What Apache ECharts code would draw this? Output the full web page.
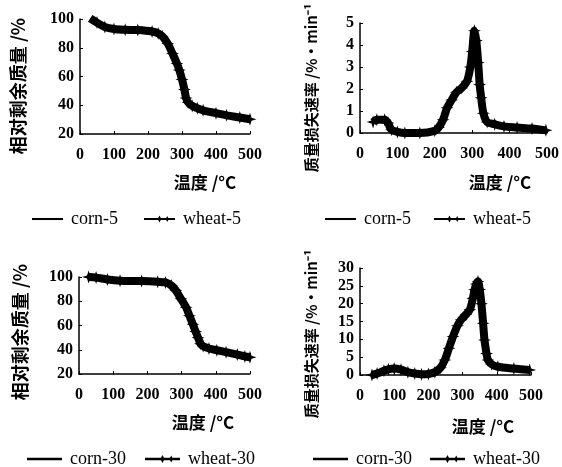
<!DOCTYPE html>
<html>
<head>
<meta charset="utf-8">
<script src="https://cdn.jsdelivr.net/npm/echarts@6/dist/echarts.min.js"></script>
<style>
  html, body { margin: 0; padding: 0; background: #fff; }
  #chart { width: 562px; height: 467px; }
</style>
</head>
<body>
<div id="chart"></div>
<script>
// [temperature °C, value]
// corn curves are hidden under the wheat markers, so they share the same trace
const tg5 = [[30,100.5],[50,97.5],[73,94.5],[100,93],[133,92.5],[170,92.3],[212,91.3],[230,90],[242,88],[258,83],[272,76],[285,69],[292,64.5],[300,58],[307,51],[312,45],[318,42],[330,39.5],[345,38],[362,36.5],[400,34.5],[431,33],[470,31.5],[500,30.3]];
const dtg5 = [[35,0.5],[45,0.6],[66,0.6],[75,0.45],[84,0.15],[100,0.05],[120,0],[160,0],[200,0.1],[210,0.25],[222,0.6],[233,1.15],[245,1.5],[258,1.85],[272,2.05],[286,2.35],[295,3.0],[300,3.7],[306,4.65],[311,4.2],[316,3.2],[320,2.2],[324,1.6],[330,0.9],[340,0.5],[360,0.4],[385,0.3],[420,0.25],[460,0.2],[497,0.12]];
const tg30 = [[28,100],[50,99.5],[83,98],[120,97],[183,96.6],[230,96],[253,95.5],[270,93],[283,89],[298,82],[313,75],[323,68],[333,61],[341,55],[348,50],[355,45],[363,43],[380,41],[403,39.6],[430,38],[463,36],[485,34.5],[500,33.8]];
const dtg30 = [[35,0],[50,0.4],[70,1.2],[83,1.6],[100,1.8],[120,1.5],[140,0.8],[160,0.4],[180,0.2],[200,0.3],[219,0.8],[235,2],[248,4.2],[260,7.5],[272,10.8],[285,13.8],[296,15.5],[310,17],[321,18.3],[330,21.5],[335,23.9],[340,25.5],[345,26.2],[350,24],[355,20],[360,14.5],[364,9.8],[370,6],[374,4.2],[385,3],[403,2.3],[450,1.8],[496,1.4]];

const tgTicks = [20, 40, 60, 80, 100];
const dtg5Max = 5;
const dtg30Max = 30;

const xTitle = '温度 /°C';
const tgTitle = '相对剩余质量 /%';
const dtgTitle = '质量损失速率 /%·min⁻¹';

const chart = echarts.init(document.getElementById('chart'));

const numFont = { fontFamily: 'Liberation Serif', fontSize: 16, fontWeight: 'bold', color: '#000' };
const star = 'path://M5,0L6.2,3.8L10,5L6.2,6.2L5,10L3.8,6.2L0,5L3.8,3.8Z';
const cornIcon = 'path://M0,8L60,8L60,12L0,12Z';
const wheatIcon = 'path://M0,8L60,8L60,12L0,12Z M30,3L32.5,8L38,10L32.5,12L30,17L27.5,12L22,10L27.5,8Z M45,4L47,8L51,10L47,12L45,16L43,12L39,10L43,8Z';

function xAxis(grid) {
  return {
    type: 'value', gridIndex: grid, min: 0, max: 500, interval: 100,
    axisLine: { show: true, onZero: false, lineStyle: { color: '#000', width: 1.5 } },
    axisTick: { show: true, inside: true, length: 3, lineStyle: { color: '#000' } },
    axisLabel: Object.assign({ margin: 13 }, numFont),
    splitLine: { show: false }
  };
}
function yAxis(grid, min, max, interval) {
  return {
    type: 'value', gridIndex: grid, min: min, max: max, interval: interval,
    axisLine: { show: true, lineStyle: { color: '#000', width: 1.5 } },
    axisTick: { show: true, inside: true, length: 3, lineStyle: { color: '#000' } },
    axisLabel: Object.assign({ margin: 6 }, numFont),
    splitLine: { show: false }
  };
}
function corn(name, grid, data) {
  return { name: name, type: 'line', xAxisIndex: grid, yAxisIndex: grid, data: data,
    symbol: 'none', smooth: 0.3, lineStyle: { color: '#000', width: 1.5 }, itemStyle: { color: '#000' }, z: 1 };
}
function wheat(name, grid, data) {
  return { name: name, type: 'line', xAxisIndex: grid, yAxisIndex: grid, data: data,
    symbol: star, symbolSize: 13, showSymbol: true, smooth: 0.3,
    lineStyle: { color: '#000', width: 8 }, itemStyle: { color: '#000' }, z: 2 };
}
function legend(names, left, top, width, gap) {
  return {
    left: left, top: top, itemWidth: width, itemHeight: 10, itemGap: gap,
    textStyle: { fontFamily: 'Liberation Serif', fontSize: 18, color: '#000', padding: [0, 0, 0, 3] },
    data: [
      { name: names[0], icon: cornIcon },
      { name: names[1], icon: wheatIcon }
    ]
  };
}
function txt(x, y, s, size, rot) {
  return { type: 'text', x: x, y: y, rotation: rot || 0,
    style: { text: s, fontFamily: 'Noto Sans CJK SC', fontSize: size, fontWeight: 'bold', fill: '#000',
      textAlign: 'center', textVerticalAlign: 'middle' } };
}

chart.setOption({
  backgroundColor: '#fff',
  animation: false,
  grid: [
    { left: 80, top: 19, width: 170, height: 115 },
    { left: 360, top: 23, width: 187, height: 110 },
    { left: 79, top: 277, width: 171, height: 97 },
    { left: 360, top: 268, width: 171, height: 107 }
  ],
  xAxis: [xAxis(0), xAxis(1), xAxis(2), xAxis(3)],
  yAxis: [
    yAxis(0, tgTicks[0], tgTicks[tgTicks.length - 1], 20),
    yAxis(1, 0, dtg5Max, 1),
    yAxis(2, tgTicks[0], tgTicks[tgTicks.length - 1], 20),
    yAxis(3, 0, dtg30Max, 5)
  ],
  legend: [
    legend(['corn-5', 'wheat-5'], 27, 205, 31, 26),
    legend(['corn-5', 'wheat-5'], 320, 205, 31, 23),
    legend(['corn-30', 'wheat-30'], 22, 445, 35, 19),
    legend(['corn-30', 'wheat-30'], 308, 445, 35, 18)
  ],
  graphic: [
    txt(205, 183, xTitle, 17),
    txt(500, 183, xTitle, 17),
    txt(203, 423, xTitle, 17),
    txt(483, 427, xTitle, 17),
    txt(18, 86, tgTitle, 18, Math.PI / 2),
    txt(311, 88, dtgTitle, 15, Math.PI / 2),
    txt(20, 332, tgTitle, 18, Math.PI / 2),
    txt(311, 334, dtgTitle, 15, Math.PI / 2)
  ],
  series: [
    corn('corn-5', 0, tg5), wheat('wheat-5', 0, tg5),
    corn('corn-5', 1, dtg5), wheat('wheat-5', 1, dtg5),
    corn('corn-30', 2, tg30), wheat('wheat-30', 2, tg30),
    corn('corn-30', 3, dtg30), wheat('wheat-30', 3, dtg30)
  ]
});
</script>
</body>
</html>
